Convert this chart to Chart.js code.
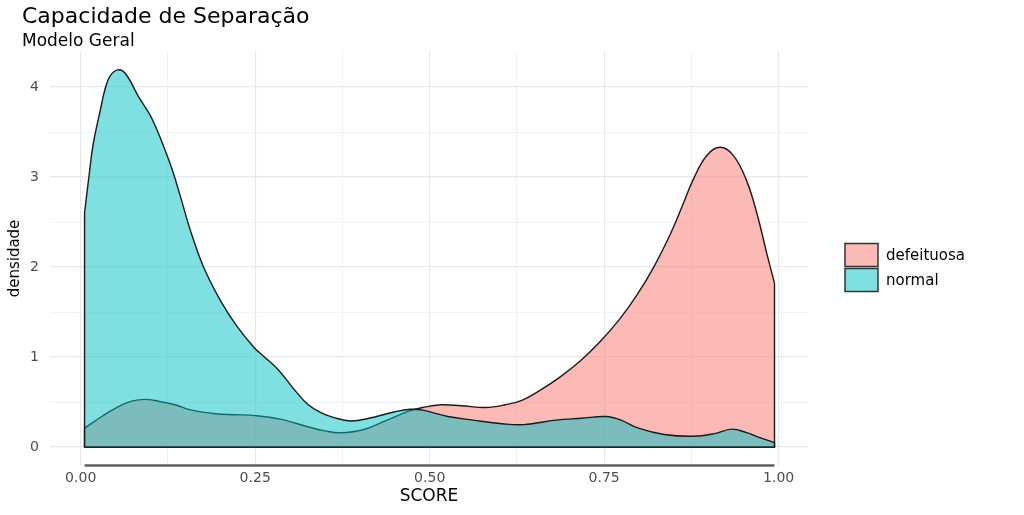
<!DOCTYPE html>
<html>
<head>
<meta charset="utf-8">
<title>Capacidade de Separação</title>
<script src="https://cdn.jsdelivr.net/npm/chart.js@4.4.0/dist/chart.umd.min.js"></script>
<style>
  html, body { margin: 0; padding: 0; background: #fff; }
  #wrap { position: relative; width: 1024px; height: 515px; }
  #head { position: absolute; left: 22px; top: 0; font-family: 'DejaVu Sans', sans-serif; color: #000; pointer-events: none; }
  #head .t { position: absolute; top: 3px; white-space: nowrap; font-size: 22px; line-height: 26px; }
  #head .s { position: absolute; top: 30px; white-space: nowrap; font-size: 17px; line-height: 20px; }
</style>
</head>
<body>
<div id="wrap">
  <div id="head">
    <div class="t">Capacidade de Separação</div>
    <div class="s">Modelo Geral</div>
  </div>
  <canvas id="graph"></canvas>
</div>
<script>
// Density curves (score -> densidade)
const normalScore = [0.0055, 0.012, 0.018, 0.028, 0.035, 0.042, 0.053, 0.064, 0.083, 0.102,
  0.128, 0.143, 0.157, 0.176, 0.200, 0.224, 0.248, 0.262, 0.283, 0.307,
  0.326, 0.345, 0.362, 0.387, 0.413, 0.449, 0.472, 0.490, 0.526, 0.562,
  0.604, 0.635, 0.681, 0.717, 0.753, 0.774, 0.799, 0.836, 0.877, 0.908,
  0.933, 0.954, 0.975, 0.994];
const normalDens = [2.60, 3.02, 3.37, 3.74, 3.98, 4.12, 4.19, 4.15, 3.89, 3.65,
  3.15, 2.78, 2.41, 2.00, 1.63, 1.34, 1.11, 1.01, 0.86, 0.63,
  0.47, 0.38, 0.33, 0.29, 0.32, 0.39, 0.42, 0.41, 0.34, 0.30,
  0.26, 0.25, 0.30, 0.32, 0.34, 0.30, 0.21, 0.14, 0.12, 0.15,
  0.20, 0.16, 0.10, 0.05];

const defeituosaScore = [0.0055, 0.030, 0.054, 0.073, 0.092, 0.111, 0.135, 0.159, 0.193, 0.221,
  0.250, 0.286, 0.328, 0.350, 0.372, 0.403, 0.439, 0.470, 0.490, 0.516,
  0.545, 0.580, 0.608, 0.632, 0.658, 0.687, 0.716, 0.744, 0.773, 0.797,
  0.821, 0.845, 0.862, 0.878, 0.897, 0.916, 0.935, 0.954, 0.969, 0.983,
  0.994];
const defeituosaDens = [0.21, 0.34, 0.45, 0.51, 0.53, 0.51, 0.47, 0.41, 0.37, 0.36,
  0.35, 0.31, 0.22, 0.18, 0.16, 0.19, 0.30, 0.40, 0.44, 0.47,
  0.46, 0.44, 0.47, 0.52, 0.63, 0.78, 0.96, 1.17, 1.43, 1.69,
  2.00, 2.37, 2.68, 2.98, 3.24, 3.33, 3.24, 2.96, 2.59, 2.15,
  1.82];

const seriesNames = ['defeituosa', 'normal'];

const toPoints = (xs, ys) => xs.map((x, i) => ({ x: x, y: ys[i] }));
const isMajorX = v => Math.abs(v * 4 - Math.round(v * 4)) < 1e-6;
const isMajorY = v => Math.abs(v - Math.round(v)) < 1e-6;

Chart.defaults.font.family = "'DejaVu Sans', sans-serif";

// ggplot draws the full outline: side edges and the baseline too
const densityOutline = {
  id: 'densityOutline',
  afterDatasetDraw(chart, args) {
    const pts = args.meta.data;
    const ds = chart.data.datasets[args.index];
    const y0 = chart.scales.y.getPixelForValue(0);
    const a = pts[0], b = pts[pts.length - 1];
    const c = chart.ctx;
    c.save();
    c.strokeStyle = ds.borderColor;
    c.lineWidth = ds.borderWidth;
    c.beginPath();
    c.moveTo(a.x, a.y);
    c.lineTo(a.x, y0);
    c.lineTo(b.x, y0);
    c.lineTo(b.x, b.y);
    c.stroke();
    c.restore();
  },
  afterDatasetsDraw(chart) {
    // dark bar under the panel over the observed score range
    const pts = chart.getDatasetMeta(0).data;
    const yb = chart.chartArea.bottom - 0.5;
    const c = chart.ctx;
    c.save();
    c.strokeStyle = '#5e5e5e';
    c.lineWidth = 2.5;
    c.beginPath();
    c.moveTo(pts[0].x, yb);
    c.lineTo(pts[pts.length - 1].x, yb);
    c.stroke();
    c.restore();
  }
};

// legend drawn like the ggplot one (keys well right of the panel)
const sideLegend = {
  id: 'sideLegend',
  afterDraw(chart) {
    const c = chart.ctx;
    const area = chart.chartArea;
    const bw = 33, bh = 23, gap = 2;
    const n = chart.data.datasets.length;
    const x = area.right + 37;
    let y = (area.top + area.bottom) / 2 + 9 - (n * bh + (n - 1) * gap) / 2;
    c.save();
    c.font = "15px 'DejaVu Sans', sans-serif";
    c.textBaseline = 'middle';
    c.textAlign = 'left';
    chart.data.datasets.forEach(ds => {
      c.fillStyle = '#fff';
      c.fillRect(x, y, bw, bh);
      c.fillStyle = ds.backgroundColor;
      c.fillRect(x, y, bw, bh);
      c.strokeStyle = '#333';
      c.lineWidth = 1.5;
      c.strokeRect(x, y, bw, bh);
      c.fillStyle = '#000';
      c.fillText(ds.label, x + bw + 8, y + bh / 2 + 1);
      y += bh + gap;
    });
    c.restore();
  }
};

const ctx = document.querySelector('#graph').getContext('2d');

new Chart(ctx, {
  type: 'line',
  data: {
    datasets: [{
      label: seriesNames[0],
      data: toPoints(defeituosaScore, defeituosaDens),
      backgroundColor: 'rgba(248, 118, 109, 0.5)',
      borderColor: '#1a1a1a',
      borderWidth: 1.4,
      fill: 'origin',
      order: 1
    }, {
      label: seriesNames[1],
      data: toPoints(normalScore, normalDens),
      backgroundColor: 'rgba(0, 191, 196, 0.5)',
      borderColor: '#1a1a1a',
      borderWidth: 1.4,
      fill: 'origin',
      order: 0
    }]
  },
  options: {
    responsive: true,
    maintainAspectRatio: false,
    animation: false,
    layout: { padding: { left: 0, right: 216, top: 51, bottom: 0 } },
    elements: {
      point: { radius: 0 },
      line: { tension: 0.4 }
    },
    plugins: {
      legend: { display: false },
      tooltip: { enabled: false }
    },
    scales: {
      x: {
        type: 'linear',
        min: -0.044,
        max: 1.042,
        border: { display: false },
        grid: {
          drawTicks: false,
          color: c => isMajorX(c.tick.value) ? '#e8e8e8' : '#f2f2f2',
          lineWidth: c => isMajorX(c.tick.value) ? 1.2 : 1
        },
        ticks: {
          stepSize: 0.125,
          includeBounds: false,
          autoSkip: false,
          maxRotation: 0,
          padding: 4,
          color: '#4d4d4d',
          font: { size: 14 },
          callback: v => isMajorX(v) ? v.toFixed(2) : ''
        },
        title: {
          display: true,
          text: 'SCORE',
          color: '#000',
          font: { size: 17 },
          padding: { top: 2, bottom: 8 }
        },
        afterFit: s => { s.height = 49; }
      },
      y: {
        min: -0.21,
        max: 4.4,
        border: { display: false },
        grid: {
          drawTicks: false,
          color: c => isMajorY(c.tick.value) ? '#e8e8e8' : '#f2f2f2',
          lineWidth: c => isMajorY(c.tick.value) ? 1.2 : 1
        },
        ticks: {
          stepSize: 0.5,
          includeBounds: false,
          autoSkip: false,
          padding: 11,
          color: '#4d4d4d',
          font: { size: 14 },
          callback: v => isMajorY(v) ? String(Math.round(v)) : ''
        },
        title: {
          display: true,
          text: 'densidade',
          color: '#000',
          font: { size: 15 },
          padding: { top: 6, bottom: 0 }
        },
        afterFit: s => { s.width = 50; }
      }
    }
  },
  plugins: [densityOutline, sideLegend]
});
</script>
</body>
</html>
